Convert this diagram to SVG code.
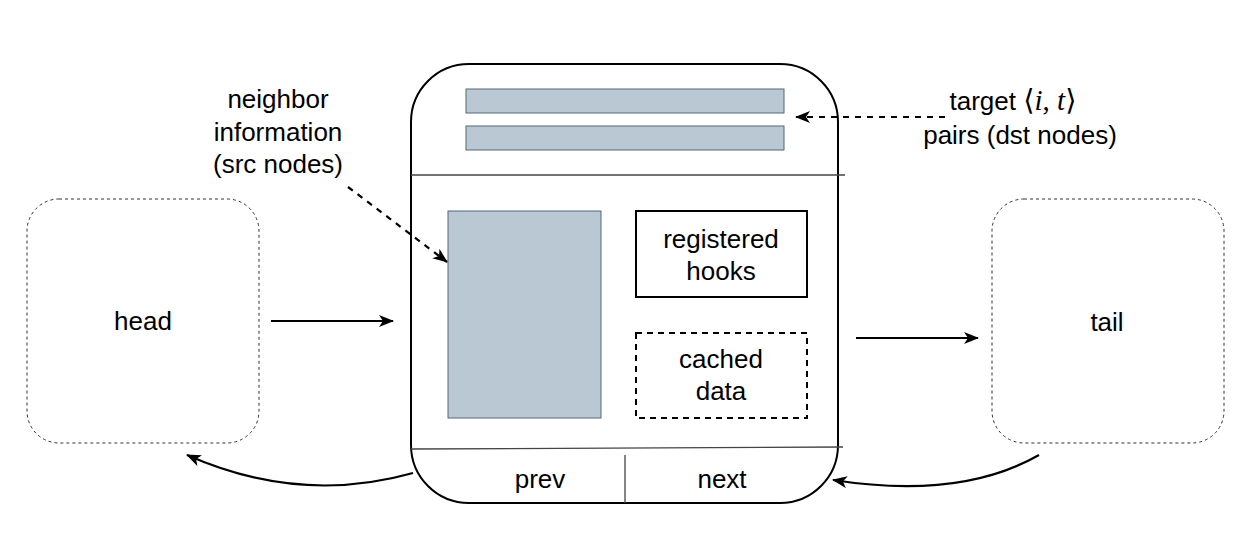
<svg xmlns="http://www.w3.org/2000/svg" width="1248" height="538" viewBox="0 0 1248 538">
<style>
text{font-family:"Liberation Sans",Arial,sans-serif;font-size:26px;fill:#000;text-anchor:middle}
.math{font-family:"Liberation Serif","DejaVu Serif",serif;font-size:29px}
.it{font-style:italic}
.ghost{fill:none;stroke:#333;stroke-width:1;stroke-dasharray:3 3}
.bar{fill:#bac8d3;stroke:#53687a;stroke-width:1}
.sep{stroke:#444;stroke-width:1.3}
.conn{fill:none;stroke:#000;stroke-width:2.2}
.dash{stroke-dasharray:6 6}
</style>
<defs>
<marker id="arr" viewBox="0 0 15 12" refX="14" refY="6" markerWidth="15" markerHeight="12" markerUnits="userSpaceOnUse" orient="auto">
<path d="M0,0 L15,6 L0,12 L4,6 Z" fill="#000"/>
</marker>
</defs>
<rect width="1248" height="538" fill="#fff"/>
<g id="head">
<rect class="ghost" x="27" y="199" width="232" height="244" rx="32"/>
<text x="143" y="330">head</text>
</g>
<g id="tail">
<rect class="ghost" x="992" y="199" width="232" height="244" rx="32"/>
<text x="1107" y="331">tail</text>
</g>
<g id="node">
<rect x="411" y="64" width="427" height="439" rx="58" fill="none" stroke="#000" stroke-width="2"/>
<line class="sep" x1="411" y1="175" x2="845" y2="175"/>
<line class="sep" x1="411" y1="449" x2="843" y2="447"/>
<line class="sep" x1="625" y1="455" x2="625" y2="503"/>
<rect class="bar" x="466" y="89" width="318" height="24"/>
<rect class="bar" x="466" y="126" width="318" height="24"/>
<rect class="bar" x="448" y="211" width="153" height="207"/>
<text x="540" y="488">prev</text>
<text x="722" y="488">next</text>
</g>
<g id="hooks">
<rect x="636" y="211" width="171" height="86" fill="none" stroke="#000" stroke-width="2"/>
<text x="721" y="248">registered</text>
<text x="721" y="280">hooks</text>
</g>
<g id="cached">
<rect x="636" y="333" width="171" height="85" fill="none" stroke="#000" stroke-width="2" stroke-dasharray="6 5"/>
<text x="721" y="368">cached</text>
<text x="721" y="400">data</text>
</g>
<g id="neighbor-label">
<text x="278" y="108">neighbor</text>
<text x="278" y="141">information</text>
<text x="278" y="173">(src nodes)</text>
</g>
<g id="target-label">
<text x="1013" y="110">target <tspan class="math">⟨<tspan class="it">i</tspan>, <tspan class="it">t</tspan>⟩</tspan></text>
<text x="1020" y="144">pairs (dst nodes)</text>
</g>
<g id="connectors">
<line class="conn" x1="271" y1="321" x2="393" y2="321" marker-end="url(#arr)"/>
<line class="conn" x1="856" y1="338" x2="978" y2="338" marker-end="url(#arr)"/>
<path class="conn dash" d="M348,187 L447,262" marker-end="url(#arr)"/>
<path class="conn dash" d="M945,117 L796,117" marker-end="url(#arr)"/>
<path class="conn" d="M413,473 Q300,505 187,455" marker-end="url(#arr)"/>
<path class="conn" d="M1039,455 Q960,500 833,480" marker-end="url(#arr)"/>
</g>
</svg>
